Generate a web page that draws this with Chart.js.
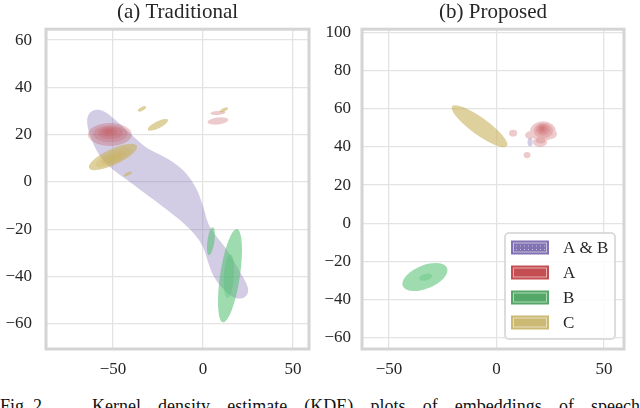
<!DOCTYPE html>
<html>
<head>
<meta charset="utf-8">
<script src="https://cdn.jsdelivr.net/npm/chart.js@4.4.1/dist/chart.umd.min.js"></script>
<style>
  html, body { margin: 0; padding: 0; background: #fff; }
  body { position: relative; width: 640px; height: 408px; overflow: hidden;
         font-family: 'Liberation Serif', 'DejaVu Serif', serif; color: #262626; }
  .panel { position: absolute; top: 0; width: 320px; height: 392px; }
  #caption { position: absolute; left: 0; top: 397px; width: 640px; height: 24px;
             font-size: 18px; line-height: 18px; white-space: nowrap; color: #111; }
  #caption .fig { position: absolute; left: 0; }
  #caption .rest { position: absolute; left: 92px; width: 548px; text-align: justify;
                   text-align-last: justify; white-space: normal; }
</style>
</head>
<body>
<div class="panel" style="left:0"><canvas id="trad"></canvas></div>
<div class="panel" style="left:320px"><canvas id="prop"></canvas></div>
<div id="caption"><span class="fig">Fig. 2.</span><span class="rest">Kernel density estimate (KDE) plots of embeddings of speech</span></div>
<script>
// KDE contour figure: (a) traditional vs (b) proposed embeddings. Each class is
// drawn as filled density contours; the ellipse rows are read off the figure as
// [centre x, centre y, major-axis dx, major-axis dy, minor/major ratio, level].

const TRAD_X_RANGE = [-87.2, 58.9];
const TRAD_Y_RANGE = [-70.6, 64.6];
const PROP_X_RANGE = [-62.6, 59.3];
const PROP_Y_RANGE = [-65.8, 101.6];

const TRAD_X_TICKS = [-50, 0, 50];
const TRAD_Y_TICKS = [-60, -40, -20, 0, 20, 40, 60];
const PROP_X_TICKS = [-50, 0, 50];
const PROP_Y_TICKS = [-60, -40, -20, 0, 20, 40, 60, 80, 100];

const LEGEND_LABELS = ['A & B', 'A', 'B', 'C'];

// (a) A & B: one broad contour, outline vertices [x, y]
const TRAD_AB_OUTLINE = [
  [-60.0, 30.4], [-54.4, 29.6], [-46.1, 24.5], [-38.9, 19.4], [-31.1, 14.4],
  [-19.4, 9.7], [-10.6, 4.6], [-3.9, -2.5], [0, -10.1], [3.9, -19.0],
  [13.3, -28.7], [20.6, -38.0], [25.0, -44.8], [23.3, -48.6], [17.8, -49.0],
  [11.7, -45.6], [6.1, -40.1], [2.8, -33.8], [0, -27.5], [-4.4, -22.4],
  [-12.8, -16.1], [-22.8, -10.1], [-31.7, -5.1], [-40.6, 0], [-48.3, 4.2],
  [-55.6, 9.3], [-60.6, 15.6], [-63.9, 22.8], [-63.9, 27.9]
];

const TRAD_A = [
  [-51.7, 20.1, 12.2, 0, 0.52, 0],
  [8.3, 29.2, 4.2, 0.2, 0.27, 0],
  [8.3, 25.8, 5.8, 0.5, 0.33, 0],
  [-51.5, 20.4, 9.5, 0, 0.5, 1],
  [-51.5, 20.8, 7.0, 0, 0.5, 2],
  [-52.0, 21.1, 4.5, 0, 0.55, 3],
  [-52.2, 21.3, 2.2, 0, 0.6, 4]
];

const TRAD_B = [
  [15.0, -39.6, 3.9, 19.7, 0.21, 0],
  [4.4, -25.0, 1.1, 5.9, 0.25, 0],
  [14.4, -39.7, 0.8, 9.3, 0.23, 1]
];

const TRAD_C = [
  [-50.0, 10.6, 13.3, 4.7, 0.3, 0],
  [-33.9, 30.9, 2.2, 0.9, 0.4, 0],
  [-25.0, 24.2, 5.6, 2.1, 0.31, 0],
  [-41.7, 3.4, 2.2, 0.85, 0.35, 0],
  [11.7, 30.5, 2.2, 0.85, 0.4, 0],
  [-49.5, 10.5, 10.0, 3.5, 0.32, 1],
  [-49.5, 10.3, 7.0, 2.4, 0.35, 2],
  [-49.5, 10.2, 4.0, 1.4, 0.4, 3],
  [-49.8, 10.2, 1.8, 0.6, 0.5, 4]
];

const PROP_AB = [
  [15.6, 42.4, 1.2, 0, 1.6, 0]
];

const PROP_A = [
  [21.6, 48.2, 6.0, 0, 0.77, 0],
  [20.2, 42.5, 3.3, 0, 0.7, 0],
  [25.3, 46.7, 2.8, 0, 0.8, 0],
  [15.6, 46.1, 2.3, 0, 0.8, 0],
  [7.7, 47.2, 1.9, 0, 0.85, 0],
  [14.2, 35.7, 1.6, 0, 0.9, 0],
  [21.8, 48.5, 4.5, 0, 0.8, 1],
  [20.5, 43.5, 2.2, 0, 0.7, 1],
  [21.6, 49.0, 3.2, 0, 0.85, 2],
  [21.4, 49.3, 2.0, 0, 0.9, 3],
  [21.2, 49.5, 1.0, 0, 1.0, 4]
];

const PROP_B = [
  [-33.3, -28.1, 10.3, 4.7, 0.49, 0],
  [-33.0, -28.2, 3.0, 0.9, 0.5, 1]
];

const PROP_C = [
  [-7.9, 50.8, 12.8, -10.4, 0.25, 0]
];

const COLORS = { 'A & B': '#8172B3', 'A': '#C44E52', 'B': '#55A868', 'C': '#CCB974' };
// fill tints for the density bands: [colour, outer alpha, inner alpha]
const FILLS = {
  'A & B': ['#8172B3', 0.36, 0.3],
  'A': ['#C44E52', 0.3, 0.22],
  'B': ['#4fc070', 0.55, 0.35],
  'C': ['#c9b25e', 0.6, 0.28]
};
const FONT = "'Liberation Serif', 'Times New Roman', serif";
const INK = '#262626';

function rgba(hex, a) {
  const n = parseInt(hex.slice(1), 16);
  return `rgba(${(n >> 16) & 255},${(n >> 8) & 255},${n & 255},${a})`;
}

function contourDataset(label, rows) {
  return {
    label,
    data: rows.map((r) => ({ x: r[0], y: r[1], ex: r[0] + r[2], ey: r[1] + r[3], ratio: r[4], level: r[5] })),
    pointRadius: 0,
    pointHoverRadius: 0,
    kdeKind: 'ellipse'
  };
}

function outlineDataset(label, vertices) {
  return {
    label,
    data: vertices.map((v) => ({ x: v[0], y: v[1] })),
    pointRadius: 0,
    pointHoverRadius: 0,
    kdeKind: 'outline'
  };
}

function drawEllipses(ctx, chart, ds, meta) {
  const xs = chart.scales.x;
  const ys = chart.scales.y;
  const [color, outer, inner] = FILLS[ds.label];
  const levels = Math.max(...ds.data.map((d) => d.level)) + 1;
  for (let lv = 0; lv < levels; lv++) {
    ctx.beginPath();
    ds.data.forEach((d, i) => {
      if (d.level !== lv) return;
      const cx = meta.data[i].x;
      const cy = meta.data[i].y;
      const ex = xs.getPixelForValue(d.ex);
      const ey = ys.getPixelForValue(d.ey);
      const a = Math.hypot(ex - cx, ey - cy);
      const ang = Math.atan2(ey - cy, ex - cx);
      ctx.moveTo(cx + a * Math.cos(ang), cy + a * Math.sin(ang));
      ctx.ellipse(cx, cy, a, a * d.ratio, ang, 0, Math.PI * 2);
    });
    ctx.fillStyle = rgba(color, lv === 0 ? outer : inner);
    ctx.fill();
  }
}

// closed Catmull-Rom curve through the outline's pixel points
function drawOutline(ctx, ds, meta) {
  const pts = meta.data;
  const n = pts.length;
  const [color, outer] = FILLS[ds.label];
  ctx.beginPath();
  ctx.moveTo(pts[0].x, pts[0].y);
  for (let i = 0; i < n; i++) {
    const p0 = pts[(i - 1 + n) % n];
    const p1 = pts[i];
    const p2 = pts[(i + 1) % n];
    const p3 = pts[(i + 2) % n];
    ctx.bezierCurveTo(
      p1.x + (p2.x - p0.x) / 6, p1.y + (p2.y - p0.y) / 6,
      p2.x - (p3.x - p1.x) / 6, p2.y - (p3.y - p1.y) / 6,
      p2.x, p2.y
    );
  }
  ctx.closePath();
  ctx.fillStyle = rgba(color, outer);
  ctx.fill();
}

const kdePlugin = {
  id: 'kdeContours',
  afterLayout(chart) {
    // centre the panel title over the plotting area, as matplotlib does
    const t = chart.titleBlock;
    if (t) {
      t.left = chart.chartArea.left;
      t.right = chart.chartArea.right;
      t.width = t.right - t.left;
    }
  },
  beforeDatasetsDraw(chart) {
    const { ctx, chartArea } = chart;
    ctx.save();
    ctx.beginPath();
    ctx.rect(chartArea.left, chartArea.top, chartArea.width, chartArea.height);
    ctx.clip();
    chart.data.datasets.forEach((ds, i) => {
      const meta = chart.getDatasetMeta(i);
      if (ds.kdeKind === 'outline') drawOutline(ctx, ds, meta);
      else drawEllipses(ctx, chart, ds, meta);
    });
    ctx.restore();
  },
  afterDatasetsDraw(chart) {
    const { ctx, chartArea } = chart;
    ctx.save();
    ctx.strokeStyle = '#d4d4d4';
    ctx.lineWidth = 3;
    ctx.strokeRect(chartArea.left, chartArea.top, chartArea.width, chartArea.height);
    ctx.restore();
  },
  afterDraw(chart, args, opts) {
    if (!opts.legend) return;
    const { ctx, chartArea } = chart;
    const w = 110;
    const h = 106;
    const left = chartArea.right - 9 - w;
    const top = chartArea.bottom - 10 - h;
    ctx.save();
    ctx.beginPath();
    ctx.roundRect(left, top, w, h, 4);
    ctx.fillStyle = 'rgba(255,255,255,0.85)';
    ctx.fill();
    ctx.strokeStyle = '#dcdcdc';
    ctx.lineWidth = 2;
    ctx.stroke();
    LEGEND_LABELS.forEach((label, i) => {
      const cy = top + 14.5 + i * 25;
      const px = left + 6;
      ctx.fillStyle = COLORS[label];
      ctx.fillRect(px, cy - 7, 38, 14);
      ctx.strokeStyle = 'rgba(255,255,255,0.55)';
      ctx.lineWidth = 1;
      ctx.strokeRect(px + 2.5, cy - 4.5, 33, 9);
      if (label === 'A & B') {
        ctx.setLineDash([1, 3]);
        ctx.beginPath();
        ctx.moveTo(px + 5, cy - 1.5);
        ctx.lineTo(px + 34, cy - 1.5);
        ctx.moveTo(px + 5, cy + 2);
        ctx.lineTo(px + 34, cy + 2);
        ctx.stroke();
        ctx.setLineDash([]);
      }
      ctx.fillStyle = INK;
      ctx.font = `17px ${FONT}`;
      ctx.textAlign = 'left';
      ctx.textBaseline = 'middle';
      ctx.fillText(label, left + 58, cy + 1);
    });
    ctx.restore();
  }
};

function tickText(v) {
  return v < 0 ? '\u2212' + Math.abs(v) : String(v);
}

function axis(range, ticks, extra) {
  return Object.assign({
    type: 'linear',
    min: range[0],
    max: range[1],
    afterBuildTicks: (scale) => { scale.ticks = ticks.map((value) => ({ value })); },
    grid: { color: '#e3e3e3', lineWidth: 1.3, drawTicks: false },
    border: { display: false },
    ticks: { color: INK, font: { family: FONT, size: 17 }, callback: tickText, autoSkip: false, maxRotation: 0 }
  }, extra);
}

function makePanel(canvasId, title, datasets, xr, yr, xt, yt, yWidth, yPad, rightPad, legend) {
  const xAxis = axis(xr, xt, { afterFit: (s) => { s.height = 43; } });
  xAxis.ticks.padding = 10;
  const yAxis = axis(yr, yt, { afterFit: (s) => { s.width = yWidth; } });
  yAxis.ticks.padding = yPad;
  return new Chart(document.getElementById(canvasId), {
    type: 'scatter',
    data: { datasets },
    options: {
      responsive: true,
      maintainAspectRatio: false,
      animation: false,
      events: [],
      layout: { padding: { left: 0, right: rightPad, top: 0, bottom: 0 } },
      scales: { x: xAxis, y: yAxis },
      plugins: {
        legend: { display: false },
        tooltip: { enabled: false },
        title: {
          display: true,
          text: title,
          color: INK,
          font: { family: FONT, size: 21, weight: 'normal' },
          padding: { top: 0, bottom: 4 }
        },
        kdeContours: { legend }
      }
    },
    plugins: [kdePlugin]
  });
}

makePanel('trad', '(a) Traditional', [
  outlineDataset('A & B', TRAD_AB_OUTLINE),
  contourDataset('A', TRAD_A),
  contourDataset('B', TRAD_B),
  contourDataset('C', TRAD_C)
], TRAD_X_RANGE, TRAD_Y_RANGE, TRAD_X_TICKS, TRAD_Y_TICKS, 46, 14, 11, false);

makePanel('prop', '(b) Proposed', [
  contourDataset('A & B', PROP_AB),
  contourDataset('A', PROP_A),
  contourDataset('B', PROP_B),
  contourDataset('C', PROP_C)
], PROP_X_RANGE, PROP_Y_RANGE, PROP_X_TICKS, PROP_Y_TICKS, 42, 11, 16, true);
</script>
</body>
</html>
